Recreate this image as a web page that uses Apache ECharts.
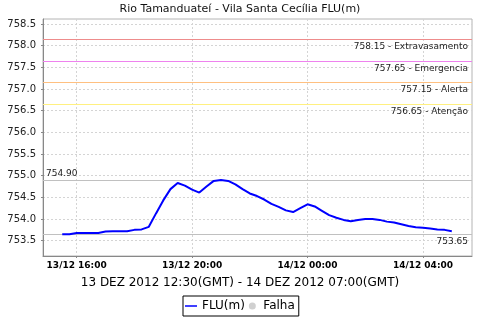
<!DOCTYPE html>
<html>
<head>
<meta charset="utf-8">
<script src="https://cdn.jsdelivr.net/npm/echarts@6/dist/echarts.min.js"></script>
<style>html,body{margin:0;padding:0;background:#fff}#c{width:480px;height:320px}</style>
</head>
<body>
<div id="c"></div>
<script>
var times = [
 "2012-12-13T15:30:00Z","2012-12-13T15:45:00Z","2012-12-13T16:00:00Z","2012-12-13T16:15:00Z",
 "2012-12-13T16:30:00Z","2012-12-13T16:45:00Z","2012-12-13T17:00:00Z","2012-12-13T17:15:00Z",
 "2012-12-13T17:30:00Z","2012-12-13T17:45:00Z","2012-12-13T18:00:00Z","2012-12-13T18:15:00Z",
 "2012-12-13T18:30:00Z","2012-12-13T18:45:00Z","2012-12-13T19:00:00Z","2012-12-13T19:15:00Z",
 "2012-12-13T19:30:00Z","2012-12-13T19:45:00Z","2012-12-13T20:00:00Z","2012-12-13T20:15:00Z",
 "2012-12-13T20:30:00Z","2012-12-13T20:45:00Z","2012-12-13T21:00:00Z","2012-12-13T21:15:00Z",
 "2012-12-13T21:30:00Z","2012-12-13T21:45:00Z","2012-12-13T22:00:00Z","2012-12-13T22:15:00Z",
 "2012-12-13T22:30:00Z","2012-12-13T22:45:00Z","2012-12-13T23:00:00Z","2012-12-13T23:15:00Z",
 "2012-12-13T23:30:00Z","2012-12-13T23:45:00Z","2012-12-14T00:00:00Z","2012-12-14T00:15:00Z",
 "2012-12-14T00:30:00Z","2012-12-14T00:45:00Z","2012-12-14T01:00:00Z","2012-12-14T01:15:00Z",
 "2012-12-14T01:30:00Z","2012-12-14T01:45:00Z","2012-12-14T02:00:00Z","2012-12-14T02:15:00Z",
 "2012-12-14T02:30:00Z","2012-12-14T02:45:00Z","2012-12-14T03:00:00Z","2012-12-14T03:15:00Z",
 "2012-12-14T03:30:00Z","2012-12-14T03:45:00Z","2012-12-14T04:00:00Z","2012-12-14T04:15:00Z",
 "2012-12-14T04:30:00Z","2012-12-14T04:45:00Z","2012-12-14T05:00:00Z"
];
var flu = [
 753.65,753.65,753.68,753.68,753.68,753.68,753.71,753.72,
 753.72,753.72,753.75,753.76,753.82,754.13,754.43,754.69,
 754.83,754.77,754.68,754.61,754.75,754.88,754.90,754.88,
 754.80,754.69,754.59,754.53,754.45,754.35,754.28,754.20,
 754.16,754.25,754.34,754.29,754.19,754.09,754.03,753.98,
 753.95,753.98,754.00,754.00,753.98,753.94,753.92,753.88,
 753.84,753.81,753.80,753.78,753.76,753.75,753.72
];
var thresholdValues = [758.15, 757.65, 757.15, 756.65];
var thresholdNames = ["Extravasamento", "Emergencia", "Alerta", "Atenção"];
var thresholdColors = ["#ee8c8c", "#ee82ee", "#ffc080", "#fff080"];
var maxValue = 754.90;
var minValue = 753.65;
var yTicks = [753.5, 754.0, 754.5, 755.0, 755.5, 756.0, 756.5, 757.0, 757.5, 758.0, 758.5];
var xTickTimes = ["2012-12-13T16:00:00Z", "2012-12-13T20:00:00Z", "2012-12-14T00:00:00Z", "2012-12-14T04:00:00Z"];
var xTickLabels = ["13/12 16:00", "13/12 20:00", "14/12 00:00", "14/12 04:00"];
var title = "Rio Tamanduateí - Vila Santa Cecília FLU(m)";
var subtitle = "13 DEZ 2012 12:30(GMT) - 14 DEZ 2012 07:00(GMT)";

var FONT = "DejaVu Sans";
var xTickMs = xTickTimes.map(function (t) { return Date.parse(t); });
var seriesData = times.map(function (t, i) { return [Date.parse(t), flu[i]]; });

var markData = thresholdValues.map(function (v, i) {
  return {
    yAxis: v,
    lineStyle: { color: thresholdColors[i], width: 1, type: "solid", opacity: 1 },
    label: {
      show: true, position: "insideEndBottom", distance: [4, 3],
      formatter: v.toFixed(2) + " - " + thresholdNames[i],
      fontFamily: FONT, fontSize: 9, color: "#222"
    }
  };
});
markData.push({
  yAxis: maxValue,
  lineStyle: { color: "#c0c0c0", width: 1, type: "solid" },
  label: { show: true, position: "insideStartTop", distance: [3, 2],
    formatter: maxValue.toFixed(2), fontFamily: FONT, fontSize: 9, color: "#222" }
});
markData.push({
  yAxis: minValue,
  lineStyle: { color: "#c0c0c0", width: 1, type: "solid" },
  label: { show: true, position: "insideEndBottom", distance: [4, 3],
    formatter: minValue.toFixed(2), fontFamily: FONT, fontSize: 9, color: "#222" }
});

var chart = echarts.init(document.getElementById("c"), null, { renderer: "canvas" });
chart.setOption({
  animation: false,
  backgroundColor: "#fff",
  title: [
    { text: title, left: "center", top: -1,
      textStyle: { fontFamily: FONT, fontSize: 11, fontWeight: "normal", color: "#111" } },
    { text: subtitle, left: "center", top: 272,
      textStyle: { fontFamily: FONT, fontSize: 12, fontWeight: "normal", color: "#000" } }
  ],
  grid: { left: 43, right: 8, top: 19, bottom: 64, show: true, borderColor: "#b4b4b4", borderWidth: 1, backgroundColor: "#fff" },
  legend: {
    left: 183, top: 296,
    padding: [4, 4, 4, 2],
    borderColor: "#000", borderWidth: 1,
    itemWidth: 12, itemHeight: 7, itemGap: 4,
    symbolKeepAspect: true,
    textStyle: { fontFamily: FONT, fontSize: 12, color: "#000" },
    data: [
      { name: "FLU(m)", icon: "path://M0,0H16V2H0Z", itemStyle: { color: "#0000ff" } },
      { name: "Falha", icon: "circle", itemStyle: { color: "#c4c4c4" } }
    ]
  },
  xAxis: {
    type: "value",
    min: Date.parse("2012-12-13T14:50:00Z"),
    max: Date.parse("2012-12-14T05:42:00Z"),
    axisLine: { show: true, lineStyle: { color: "#888", width: 1 } },
    axisTick: { show: true, length: 2, customValues: xTickMs, lineStyle: { color: "#888" } },
    axisLabel: {
      customValues: xTickMs, margin: 5, hideOverlap: false, showMinLabel: true, showMaxLabel: true,
      fontFamily: FONT, fontSize: 9, fontWeight: "bold", color: "#000",
      formatter: function (v) { var i = xTickMs.indexOf(Number(v)); return i >= 0 ? xTickLabels[i] : ""; }
    },
    splitLine: { show: true, lineStyle: { color: "#d4d4d4", type: [2, 2], width: 1 } }
  },
  yAxis: {
    type: "value",
    min: 753.147, max: 758.615,
    axisLine: { show: true, lineStyle: { color: "#888", width: 1 } },
    axisTick: { show: true, length: 2, customValues: yTicks, lineStyle: { color: "#888" } },
    axisLabel: {
      customValues: yTicks, margin: 7,
      fontFamily: FONT, fontSize: 10, color: "#222",
      formatter: function (v) { return Number(v).toFixed(1); }
    },
    splitLine: { show: true, lineStyle: { color: "#d4d4d4", type: [2, 2], width: 1 } }
  },
  series: [
    {
      name: "FLU(m)", type: "line", data: seriesData,
      symbol: "none", showSymbol: false,
      lineStyle: { color: "#0000ff", width: 2 }, itemStyle: { color: "#0000ff" },
      z: 5,
      markLine: { silent: true, symbol: "none", animation: false, data: markData }
    },
    {
      name: "Falha", type: "scatter", data: [],
      itemStyle: { color: "#c4c4c4" }
    }
  ]
});
</script>
</body>
</html>
